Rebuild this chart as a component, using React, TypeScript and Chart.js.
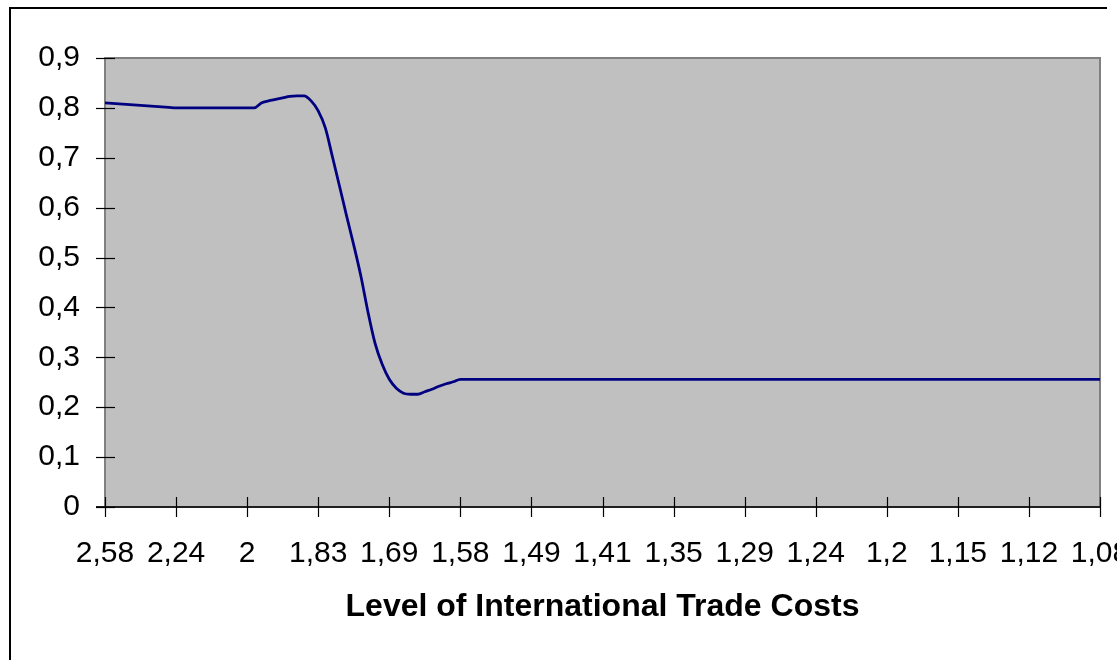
import React, { useEffect, useRef } from "react";
import { Chart, registerables } from "chart.js";

Chart.register(...registerables);

// Tick labels shown on the category axis (level of international trade costs)
const TICK_LABELS = [
  "2,58", "2,24", "2", "1,83", "1,69", "1,58", "1,49", "1,41",
  "1,35", "1,29", "1,24", "1,2", "1,15", "1,12", "1,08",
];
const LABEL_STEP = 10;

// Series values (one per category, 141 categories)
const SHARE_VALUES = [
  0.810, 0.809, 0.808, 0.807, 0.806, 0.805, 0.804, 0.803, 0.802, 0.801,
  0.800, 0.800, 0.800, 0.800, 0.800, 0.800, 0.800, 0.800, 0.800, 0.800,
  0.800, 0.800, 0.810, 0.814, 0.817, 0.820, 0.823, 0.824, 0.824, 0.814,
  0.794, 0.760, 0.702, 0.643, 0.583, 0.525, 0.463, 0.391, 0.328, 0.286,
  0.256, 0.238, 0.228, 0.226, 0.226, 0.231, 0.236, 0.242, 0.247, 0.251,
  0.256, 0.256, 0.256, 0.256, 0.256, 0.256, 0.256, 0.256, 0.256, 0.256,
  0.256, 0.256, 0.256, 0.256, 0.256, 0.256, 0.256, 0.256, 0.256, 0.256,
  0.256, 0.256, 0.256, 0.256, 0.256, 0.256, 0.256, 0.256, 0.256, 0.256,
  0.256, 0.256, 0.256, 0.256, 0.256, 0.256, 0.256, 0.256, 0.256, 0.256,
  0.256, 0.256, 0.256, 0.256, 0.256, 0.256, 0.256, 0.256, 0.256, 0.256,
  0.256, 0.256, 0.256, 0.256, 0.256, 0.256, 0.256, 0.256, 0.256, 0.256,
  0.256, 0.256, 0.256, 0.256, 0.256, 0.256, 0.256, 0.256, 0.256, 0.256,
  0.256, 0.256, 0.256, 0.256, 0.256, 0.256, 0.256, 0.256, 0.256, 0.256,
  0.256, 0.256, 0.256, 0.256, 0.256, 0.256, 0.256, 0.256, 0.256, 0.256,
  0.256,
];

const Y_MIN = 0;
const Y_MAX = 0.9;
const Y_STEP = 0.1;
const X_TITLE = "Level of International Trade Costs";

const CATEGORIES = SHARE_VALUES.map((_, i) =>
  i % LABEL_STEP === 0 ? TICK_LABELS[i / LABEL_STEP] : ""
);

const FONT_FAMILY = '"Liberation Sans", Arial, sans-serif';

const framePlugin = {
  id: "excelFrame",
  beforeDraw(chart: any) {
    const { ctx, chartArea: a } = chart;
    ctx.save();
    ctx.fillStyle = "#C0C0C0";
    ctx.fillRect(a.left, a.top, a.right - a.left, a.bottom - a.top);
    ctx.restore();
  },
  beforeDatasetsDraw(chart: any) {
    const { ctx, chartArea: a } = chart;
    ctx.save();
    ctx.strokeStyle = "#808080";
    ctx.lineWidth = 2;
    ctx.strokeRect(a.left, a.top, a.right - a.left, a.bottom - a.top);
    ctx.restore();
  },
  afterDraw(chart: any) {
    const { ctx, chartArea: a, scales } = chart;
    const xs = scales.x;
    const ys = scales.y;
    ctx.save();
    // x axis line
    ctx.strokeStyle = "#202020";
    ctx.lineWidth = 1.8;
    ctx.beginPath();
    ctx.moveTo(a.left - 9, Math.round(a.bottom));
    ctx.lineTo(a.right + 1, Math.round(a.bottom));
    ctx.stroke();
    ctx.strokeStyle = "#000000";
    ctx.lineWidth = 1.2;
    // y ticks crossing the axis
    ys.ticks.forEach((t: any) => {
      const y = Math.round(ys.getPixelForValue(t.value)) + 0.5;
      ctx.beginPath();
      ctx.moveTo(a.left - 9, y);
      ctx.lineTo(a.left + 10, y);
      ctx.stroke();
    });
    // x ticks crossing the axis
    CATEGORIES.forEach((c, i) => {
      if (!c) return;
      const x = Math.round(xs.getPixelForValue(i)) + 0.5;
      ctx.beginPath();
      ctx.moveTo(x, a.bottom - 10);
      ctx.lineTo(x, a.bottom + 10);
      ctx.stroke();
    });
    ctx.restore();
  },
};

export default function App() {
  const canvasRef = useRef<HTMLCanvasElement | null>(null);

  useEffect(() => {
    const canvas = canvasRef.current;
    if (!canvas) return;
    const chart = new Chart(canvas, {
      type: "line",
      data: {
        labels: CATEGORIES,
        datasets: [
          {
            data: SHARE_VALUES,
            borderColor: "#000080",
            borderWidth: 2.8,
            pointRadius: 0,
            cubicInterpolationMode: "monotone",
            fill: false,
          },
        ],
      },
      options: {
        animation: false,
        responsive: false,
        devicePixelRatio: 1,
        layout: { padding: { top: 58, right: 50, left: 0, bottom: 0 } },
        plugins: {
          legend: { display: false },
          tooltip: { enabled: false },
          title: { display: false },
        },
        scales: {
          x: {
            type: "category",
            offset: false,
            grid: { display: false, drawTicks: false },
            border: { display: false },
            ticks: {
              autoSkip: false,
              maxRotation: 0,
              minRotation: 0,
              padding: 29,
              color: "#000000",
              font: { family: FONT_FAMILY, size: 30 },
              callback: (_v: any, idx: number) => CATEGORIES[idx] || null,
            },
            title: {
              display: true,
              text: X_TITLE,
              color: "#000000",
              font: { family: FONT_FAMILY, size: 32, weight: "bold" },
              padding: { top: 0, bottom: 34 },
            },
            afterFit: (scale: any) => {
              scale.height = 153;
              scale.paddingLeft = 0;
              scale.paddingRight = 0;
            },
          },
          y: {
            type: "linear",
            min: Y_MIN,
            max: Y_MAX,
            grid: { display: false, drawTicks: false },
            border: { display: false },
            ticks: {
              stepSize: Y_STEP,
              padding: 25,
              color: "#000000",
              font: { family: FONT_FAMILY, size: 30 },
              callback: (v: any) => {
                const r = Math.round(Number(v) * 10) / 10;
                return String(r).replace(".", ",");
              },
            },
            afterFit: (scale: any) => {
              scale.width = 105;
              scale.paddingTop = 0;
              scale.paddingBottom = 0;
            },
          },
        },
      },
      plugins: [framePlugin],
    });
    return () => chart.destroy();
  }, []);

  return (
    <div
      style={{
        position: "absolute",
        left: 0,
        top: 0,
        width: 1117,
        height: 660,
        overflow: "hidden",
        background: "#ffffff",
      }}
    >
      <div
        style={{
          position: "absolute",
          left: 9,
          top: 7,
          width: 1098,
          height: 700,
          borderTop: "2px solid #000000",
          borderLeft: "2px solid #000000",
          boxSizing: "border-box",
        }}
      />
      <canvas
        ref={canvasRef}
        width={1150}
        height={660}
        style={{ position: "absolute", left: 0, top: 0, width: 1150, height: 660 }}
      />
    </div>
  );
}
